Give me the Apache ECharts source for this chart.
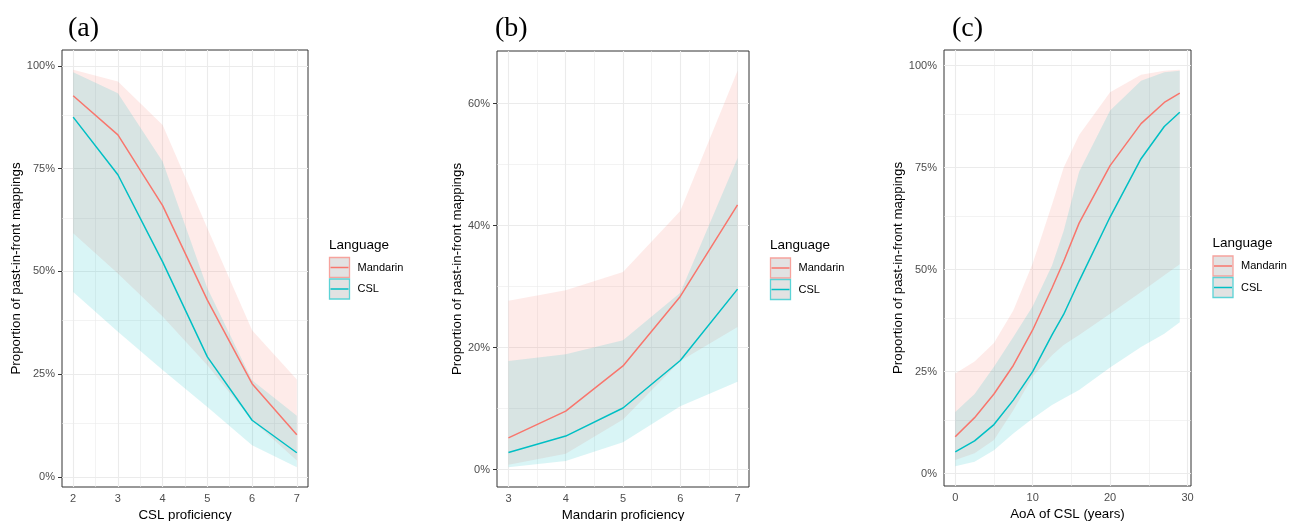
<!DOCTYPE html>
<html><head><meta charset="utf-8">
<script src="https://cdn.jsdelivr.net/npm/echarts@6/dist/echarts.min.js"></script>
<style>html,body{margin:0;padding:0;background:#fff;}#c{width:1296px;height:521px;}</style>
</head><body><div id="c"></div>
<script>
// ---------- data: panel (a) ----------
const xA = [2, 3, 4, 5, 6, 7];
const mandarinA   = [0.927, 0.832, 0.660, 0.430, 0.227, 0.103];
const mandarinLoA = [0.593, 0.495, 0.390, 0.272, 0.138, 0.040];
const mandarinHiA = [0.990, 0.962, 0.856, 0.605, 0.357, 0.237];
const cslA        = [0.875, 0.735, 0.523, 0.292, 0.138, 0.059];
const cslLoA      = [0.450, 0.353, 0.260, 0.170, 0.077, 0.024];
const cslHiA      = [0.984, 0.933, 0.767, 0.459, 0.235, 0.149];
// ---------- data: panel (b) ----------
const xB = [3, 4, 5, 6, 7];
const mandarinB   = [0.052, 0.096, 0.170, 0.284, 0.434];
const mandarinLoB = [0.008, 0.026, 0.082, 0.178, 0.234];
const mandarinHiB = [0.277, 0.294, 0.324, 0.424, 0.654];
const cslB        = [0.028, 0.055, 0.101, 0.179, 0.296];
const cslLoB      = [0.004, 0.014, 0.045, 0.104, 0.144];
const cslHiB      = [0.178, 0.189, 0.212, 0.290, 0.511];
// ---------- data: panel (c) ----------
const xC = [0, 2.5, 5, 7.5, 10, 12.5, 14, 16, 20, 24, 27, 29];
const mandarinC   = [0.090, 0.137, 0.195, 0.265, 0.352, 0.455, 0.520, 0.614, 0.755, 0.858, 0.910, 0.933];
const mandarinLoC = [0.033, 0.050, 0.082, 0.155, 0.238, 0.290, 0.315, 0.340, 0.392, 0.445, 0.486, 0.513];
const mandarinHiC = [0.245, 0.275, 0.320, 0.400, 0.515, 0.660, 0.750, 0.830, 0.935, 0.978, 0.988, 0.990];
const cslC        = [0.053, 0.080, 0.120, 0.180, 0.250, 0.340, 0.390, 0.472, 0.629, 0.772, 0.851, 0.886];
const cslLoC      = [0.018, 0.029, 0.057, 0.098, 0.135, 0.168, 0.184, 0.205, 0.260, 0.310, 0.343, 0.371];
const cslHiC      = [0.151, 0.195, 0.262, 0.335, 0.410, 0.510, 0.595, 0.740, 0.890, 0.963, 0.984, 0.988];
// ---------- ticks & text ----------
const xTicksA = [2, 3, 4, 5, 6, 7];
const yTicksA = [0, 0.25, 0.5, 0.75, 1];
const xTicksB = [3, 4, 5, 6, 7];
const yTicksB = [0, 0.2, 0.4, 0.6];
const xTicksC = [0, 10, 20, 30];
const yTicksC = [0, 0.25, 0.5, 0.75, 1];
const xTitles = ['CSL proficiency', 'Mandarin proficiency', 'AoA of CSL (years)'];
const yTitle = 'Proportion of past-in-front mappings';
const panelTags = ['(a)', '(b)', '(c)'];
const legendTitle = 'Language';
const legendNames = ['Mandarin', 'CSL'];

const RED = '#F8766D', CYAN = '#00BFC4';
const SANS = '"Liberation Sans", Arial, sans-serif';

const panels = [
  {x: xA, m: mandarinA, mLo: mandarinLoA, mHi: mandarinHiA, c: cslA, cLo: cslLoA, cHi: cslHiA, xt: xTicksA, yt: yTicksA,
   grid: {left: 62, top: 50, width: 246, height: 437}, yGap: 34, tag: [68, 31], leg: [329, 245]},
  {x: xB, m: mandarinB, mLo: mandarinLoB, mHi: mandarinHiB, c: cslB, cLo: cslLoB, cHi: cslHiB, xt: xTicksB, yt: yTicksB,
   grid: {left: 497, top: 51, width: 252, height: 436}, yGap: 29, tag: [495, 31], leg: [770, 245.5]},
  {x: xC, m: mandarinC, mLo: mandarinLoC, mHi: mandarinHiC, c: cslC, cLo: cslLoC, cHi: cslHiC, xt: xTicksC, yt: yTicksC,
   grid: {left: 944, top: 50, width: 247, height: 436}, yGap: 35.5, tag: [952, 31], leg: [1212.5, 243.5]}
];

function expand(arrs) {
  let lo = Infinity, hi = -Infinity;
  arrs.forEach(a => a.forEach(v => { lo = Math.min(lo, v); hi = Math.max(hi, v); }));
  const d = (hi - lo) * 0.05;
  return [lo - d, hi + d];
}
function minors(ticks, range) {
  const out = [];
  const step = ticks[1] - ticks[0];
  const all = [ticks[0] - step].concat(ticks, [ticks[ticks.length - 1] + step]);
  for (let i = 0; i < all.length - 1; i++) {
    const v = (all[i] + all[i + 1]) / 2;
    if (v > range[0] && v < range[1]) out.push(v);
  }
  return out;
}

const grids = [], xAxes = [], yAxes = [], series = [], graphics = [];

panels.forEach((p, i) => {
  const xr = expand([p.x]);
  const yr = expand([p.mLo, p.mHi, p.cLo, p.cHi, p.m, p.c]);
  grids.push(Object.assign({show: true, borderColor: '#333333', borderWidth: 1, backgroundColor: 'transparent',
    containLabel: false, outerBoundsMode: 'none'}, p.grid));
  xAxes.push({
    type: 'value', gridIndex: i, min: xr[0], max: xr[1],
    axisLine: {show: false}, splitLine: {show: false},
    axisTick: {show: true, customValues: p.xt, length: 4, lineStyle: {color: '#333333', width: 1}},
    axisLabel: {customValues: p.xt, color: '#4D4D4D', fontSize: 11, margin: 6, fontFamily: SANS},
    name: xTitles[i], nameLocation: 'middle', nameGap: 19,
    nameTextStyle: {fontSize: 13.3, color: '#000', fontFamily: SANS}
  });
  yAxes.push({
    type: 'value', gridIndex: i, min: yr[0], max: yr[1],
    axisLine: {show: false}, splitLine: {show: false},
    axisTick: {show: true, customValues: p.yt, length: 4, lineStyle: {color: '#333333', width: 1}},
    axisLabel: {customValues: p.yt, color: '#4D4D4D', fontSize: 11, margin: 7, fontFamily: SANS,
      formatter: v => Math.round(v * 100) + '%'},
    name: yTitle, nameLocation: 'middle', nameGap: p.yGap,
    nameTextStyle: {fontSize: 13.3, color: '#000', fontFamily: SANS}
  });
  // grid lines through the axes' scales
  const ml = [];
  minors(p.xt, xr).forEach(v => ml.push({xAxis: v, lineStyle: {color: '#EBEBEB', width: 0.6, type: 'solid'}}));
  minors(p.yt, yr).forEach(v => ml.push({yAxis: v, lineStyle: {color: '#EBEBEB', width: 0.6, type: 'solid'}}));
  p.xt.filter(v => v > xr[0] && v < xr[1]).forEach(v => ml.push({xAxis: v, lineStyle: {color: '#EBEBEB', width: 1.1, type: 'solid'}}));
  p.yt.filter(v => v > yr[0] && v < yr[1]).forEach(v => ml.push({yAxis: v, lineStyle: {color: '#EBEBEB', width: 1.1, type: 'solid'}}));
  series.push({
    type: 'line', xAxisIndex: i, yAxisIndex: i, data: [], silent: true, z: 1,
    markLine: {silent: true, z: 1, symbol: ['none', 'none'], label: {show: false}, emphasis: {disabled: true}, animation: false, data: ml}
  });
  function ribbon(lo, hi, color) {
    return {
      type: 'custom', xAxisIndex: i, yAxisIndex: i, z: 3, silent: true, clip: true,
      data: p.x.map((x, k) => [x, lo[k], hi[k]]),
      encode: {x: 0, y: [1, 2]},
      renderItem: function (params, api) {
        if (params.dataIndex !== 0) return null;
        const pts = [];
        for (let k = 0; k < p.x.length; k++) pts.push(api.coord([p.x[k], hi[k]]));
        for (let k = p.x.length - 1; k >= 0; k--) pts.push(api.coord([p.x[k], lo[k]]));
        return {type: 'polygon', shape: {points: pts}, style: {fill: color}};
      }
    };
  }
  series.push(ribbon(p.mLo, p.mHi, 'rgba(248,118,109,0.15)'));
  series.push(ribbon(p.cLo, p.cHi, 'rgba(0,191,196,0.15)'));
  series.push({type: 'line', xAxisIndex: i, yAxisIndex: i, z: 4, silent: true, showSymbol: false,
    data: p.x.map((x, k) => [x, p.m[k]]), lineStyle: {color: RED, width: 1.5}});
  series.push({type: 'line', xAxisIndex: i, yAxisIndex: i, z: 4, silent: true, showSymbol: false,
    data: p.x.map((x, k) => [x, p.c[k]]), lineStyle: {color: CYAN, width: 1.5}});

  // panel tag
  graphics.push({type: 'text', left: p.tag[0], top: p.tag[1] - 16,
    style: {text: panelTags[i], font: '28px "Liberation Serif", "Times New Roman", serif', fill: '#000'}});
  // legend
  const lx = p.leg[0], ly = p.leg[1];
  graphics.push({type: 'text', x: lx, y: ly,
    style: {text: legendTitle, font: '13.5px ' + SANS, fill: '#000', textVerticalAlign: 'middle'}});
  [[RED, '#F6A39D'], [CYAN, '#5CD3D6']].forEach((cols, k) => {
    const top = ly + 12.5 + k * 21.5;
    graphics.push({type: 'rect', shape: {x: lx + 0.5, y: top, width: 20, height: 20},
      style: {fill: '#E2E2E2', stroke: cols[1], lineWidth: 1.3}});
    graphics.push({type: 'line', shape: {x1: lx + 1.5, y1: top + 10, x2: lx + 19.5, y2: top + 10},
      style: {stroke: cols[0], lineWidth: 1.5}});
    graphics.push({type: 'text', x: lx + 28.5, y: top + 10,
      style: {text: legendNames[k], font: '11px ' + SANS, fill: '#000', textVerticalAlign: 'middle'}});
  });
});

const chart = echarts.init(document.getElementById('c'), null, {renderer: 'canvas'});
chart.setOption({
  animation: false,
  backgroundColor: '#fff',
  grid: grids, xAxis: xAxes, yAxis: yAxes, series: series,
  graphic: graphics
});
</script></body></html>
